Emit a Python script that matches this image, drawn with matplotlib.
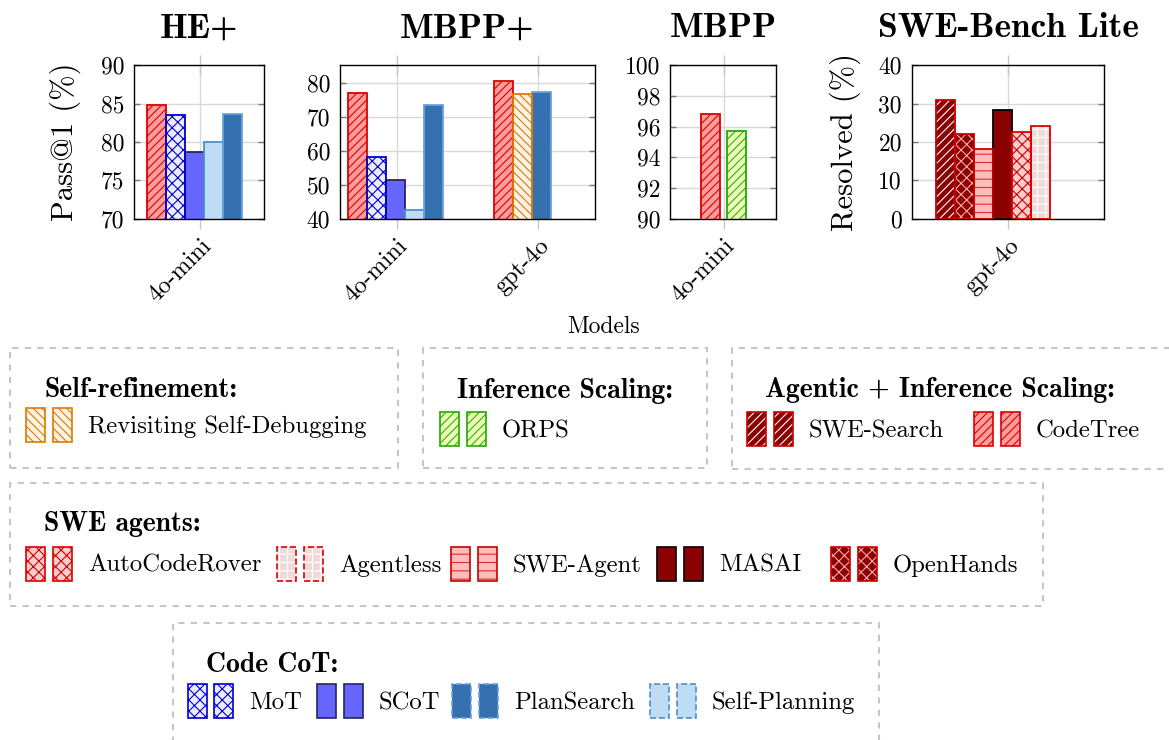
import matplotlib
matplotlib.use("Agg")
import matplotlib.pyplot as plt
from matplotlib.patches import Rectangle
from matplotlib.transforms import ScaledTranslation

plt.rcParams["font.family"] = ["cmr10", "DejaVu Serif"]
plt.rcParams["axes.unicode_minus"] = False
plt.rcParams["hatch.linewidth"] = 0.8

# ---------------- data ----------------
he_models = ["4o-mini"]
he_methods = ["CodeTree", "MoT", "SCoT", "Self-Planning", "PlanSearch"]
he_values = [84.8, 83.5, 78.7, 80.0, 83.7]

mbppp_models = ["4o-mini", "gpt-4o"]
mbppp_methods_mini = ["CodeTree", "MoT", "SCoT", "Self-Planning", "PlanSearch"]
mbppp_values_mini = [77.1, 58.2, 51.5, 42.5, 73.6]
mbppp_methods_4o = ["CodeTree", "Revisiting Self-Debugging", "PlanSearch"]
mbppp_values_4o = [80.6, 76.6, 77.3]

mbpp_models = ["4o-mini"]
mbpp_methods = ["CodeTree", "ORPS"]
mbpp_values = [96.8, 95.7]

swe_models = ["gpt-4o"]
swe_methods = ["SWE-Search", "OpenHands", "SWE-Agent", "MASAI", "AutoCodeRover", "Agentless"]
swe_values = [31.0, 22.0, 18.3, 28.3, 22.7, 24.3]

# ---------------- styles ----------------
# name: (fill, hatch, hatch colour, edge colour, legend edge linestyle)
STYLE = {
    "CodeTree": ("#ff9c9c", "////", "#e00000", "#dd0000", "-"),
    "MoT": ("#ececff", "xxx", "#0000dd", "#0000cc", "-"),
    "SCoT": ("#6666ff", None, None, "#26265e", "-"),
    "Self-Planning": ("#bfdcf5", None, None, "#4f8fcf", "--"),
    "PlanSearch": ("#3571b0", None, None, "#6aa3dc", "--"),
    "Revisiting Self-Debugging": ("#fff3e6", "\\\\\\\\", "#e07800", "#e07800", "-"),
    "ORPS": ("#eeffbb", "////", "#2db300", "#22aa00", "-"),
    "SWE-Search": ("#8b0000", "////", "#ffffff", "#cc0000", "-"),
    "OpenHands": ("#8b0000", "xxx", "#ffaaaa", "#cc0000", "-"),
    "SWE-Agent": ("#ffbcbc", "--", "#d83030", "#cc0000", "-"),
    "MASAI": ("#8b0000", None, None, "#000000", "-"),
    "AutoCodeRover": ("#ffcccc", "xxx", "#cc0000", "#dd0000", "-"),
    "Agentless": ("#f1dada", "++", "#ffffff", "#dd0000", "--"),
}

W, H = 1169, 740
BAR_W = 0.134  # bar width in units of category spacing
BOLD = ["cmb10", "DejaVu Serif"]


def fx(px):
    return px / W


def fy(py):
    return 1 - py / H


def draw_bar(ax, x, value, name):
    fill, hatch, hcol, edge, _ = STYLE[name]
    if hatch:
        ax.bar(x, value, width=BAR_W, color=fill, hatch=hatch,
               edgecolor=hcol, linewidth=0, zorder=2)
        ax.bar(x, value, width=BAR_W, fill=False, edgecolor=edge,
               linewidth=1.3, zorder=3)
    else:
        ax.bar(x, value, width=BAR_W, color=fill, edgecolor=edge,
               linewidth=1.3, zorder=2)


def make_axes(left, right, top, bottom, xlim, ylim, yticks, models):
    ax = fig.add_axes([fx(left), fy(bottom), fx(right - left), (bottom - top) / H])
    ax.set_xlim(*xlim)
    ax.set_ylim(*ylim)
    ax.set_yticks(yticks)
    ax.set_xticks(range(len(models)))
    ax.set_xticklabels(models, rotation=45, ha="right", va="top",
                       rotation_mode="anchor", fontsize=17.5)
    shift = ScaledTranslation(-8 / 100, 0, fig.dpi_scale_trans)
    for lab in ax.get_xticklabels():
        lab.set_transform(lab.get_transform() + shift)
    ax.tick_params(axis="x", direction="inout", length=15, width=1,
                   color="#c8c8c8", top=True, pad=4)
    ax.tick_params(axis="y", direction="in", length=4, width=1,
                   color="#7a7a7a", left=True, right=True, labelsize=17, pad=7)
    ax.grid(True, color="#d9d9d9", linewidth=1)
    ax.set_axisbelow(True)
    for sp in ax.spines.values():
        sp.set_linewidth(1.0)
    return ax


def draw_group(ax, xc, methods, values, slots):
    for m, v, s in zip(methods, values, slots):
        draw_bar(ax, xc + s * BAR_W, v, m)


fig = plt.figure(figsize=(W / 100, H / 100), dpi=100)

# HE+
ax1 = make_axes(134.3, 264.3, 65.3, 218.7, (-0.464, 0.454), (70, 90),
                range(70, 91, 5), he_models)
draw_group(ax1, 0, he_methods, he_values, [-2.3, -1.3, -0.3, 0.7, 1.7])

# MBPP+
ax2 = make_axes(340, 595, 65.3, 218.7, (-0.40, 1.40), (40, 85.2),
                range(40, 81, 10), mbppp_models)
draw_group(ax2, 0, mbppp_methods_mini, mbppp_values_mini, [-2.08, -1.08, -0.08, 0.92, 1.95])
draw_group(ax2, 1, mbppp_methods_4o, mbppp_values_4o, [-1.82, -0.83, 0.16])

# MBPP
ax3 = make_axes(670.3, 775.7, 65.3, 218.7, (-0.377, 0.367), (90, 100),
                range(90, 101, 2), mbpp_models)
draw_group(ax3, 0, mbpp_methods, mbpp_values, [-0.72, 0.67])

# SWE-Bench Lite
ax4 = make_axes(911.7, 1104.3, 65.3, 218.7, (-0.682, 0.678), (0, 40),
                range(0, 41, 10), swe_models)
draw_group(ax4, 0, swe_methods, swe_values, [-3.3, -2.3, -1.3, -0.3, 0.7, 1.7])

# titles
for ax, t in [(ax1, "HE+"), (ax2, "MBPP+"), (ax3, "MBPP"), (ax4, "SWE-Bench Lite")]:
    bb = ax.get_position()
    fig.text((bb.x0 + bb.x1) / 2, fy(37), t, ha="center", va="baseline",
             fontsize=25.5, family=BOLD, fontweight="bold")

fig.text(fx(65), fy(142), "Pass@1 (%)", rotation=90, ha="center", va="center", fontsize=22)
fig.text(fx(845), fy(142), "Resolved (%)", rotation=90, ha="center", va="center", fontsize=22)
fig.text(fx(603), fy(327), "Models", ha="center", va="center", fontsize=17)

# ---------------- grouped legend ----------------
BOX_KW = dict(transform=fig.transFigure, fill=False, edgecolor="#c6c6c6",
              linewidth=1.5, linestyle=(0, (3, 3)), clip_on=False)


def legend_box(x0, y0, x1, y1):
    fig.add_artist(Rectangle((fx(x0), fy(y1)), fx(x1 - x0), (y1 - y0) / H, **BOX_KW))


def legend_patch(x0, ytop, name):
    fill, hatch, hcol, edge, ls = STYLE[name]
    xy = (fx(x0), fy(ytop + 34))
    w, h = fx(19), 34 / H
    if hatch:
        fig.add_artist(Rectangle(xy, w, h, transform=fig.transFigure, facecolor=fill,
                                 hatch=hatch, edgecolor=hcol, linewidth=0))
        fig.add_artist(Rectangle(xy, w, h, transform=fig.transFigure, fill=False,
                                 edgecolor=edge, linewidth=1.2, linestyle=ls))
    else:
        fig.add_artist(Rectangle(xy, w, h, transform=fig.transFigure, facecolor=fill,
                                 edgecolor=edge, linewidth=1.2, linestyle=ls))


def legend_entry(x0, ytop, name):
    legend_patch(x0, ytop, name)
    legend_patch(x0 + 26.5, ytop, name)
    fig.text(fx(x0 + 62), fy(ytop + 25), name, ha="left", va="baseline", fontsize=17.8)


def legend_title(x0, ybase, text):
    fig.text(fx(x0), fy(ybase), text, ha="left", va="baseline", fontsize=20,
             family=BOLD, fontweight="bold")


legend_box(10, 348, 398, 468)
legend_title(45, 397, "Self-refinement:")
legend_entry(26, 408, "Revisiting Self-Debugging")

legend_box(423, 348, 707, 468)
legend_title(457, 398, "Inference Scaling:")
legend_entry(440, 412, "ORPS")

legend_box(731.5, 348, 1175, 469)
legend_title(765, 397, "Agentic + Inference Scaling:")
legend_entry(747, 412, "SWE-Search")
legend_entry(974, 412, "CodeTree")

legend_box(10, 482.5, 1043, 605.5)
legend_title(44, 531, "SWE agents:")
for x0, name in [(26, "AutoCodeRover"), (277, "Agentless"), (451, "SWE-Agent"),
                 (657, "MASAI"), (831, "OpenHands")]:
    legend_entry(x0, 547, name)

legend_box(172.5, 622.5, 879, 760)
legend_title(206, 672, "Code CoT:")
for x0, name in [(187.5, "MoT"), (317, "SCoT"), (452, "PlanSearch"), (650, "Self-Planning")]:
    legend_entry(x0, 684, name)

fig.savefig("out.png", dpi=100)
